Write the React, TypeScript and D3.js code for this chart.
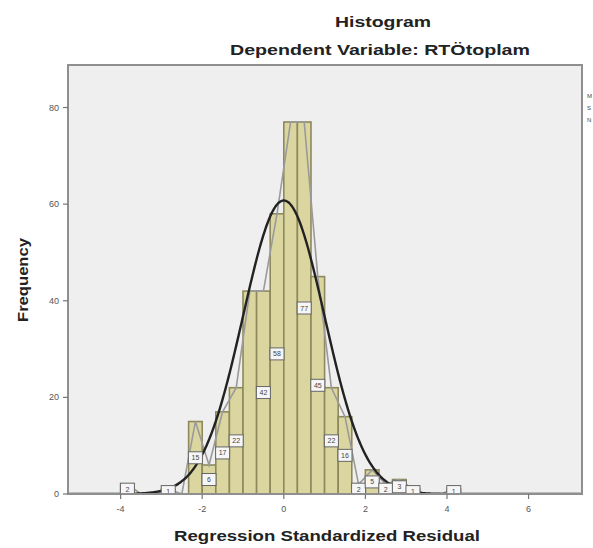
import React from "react";
import * as d3 from "d3";

const binStart = -4;
const binWidth = 1 / 3;
const frequencies = [2, 0, 0, 1, 0, 15, 6, 17, 22, 42, 42, 58, 77, 77, 45, 22, 16, 2, 5, 2, 3, 1, 0, 0, 1];
const showLabel = [true, false, false, true, false, true, true, true, true, false, true, true, false, true, true, true, true, true, true, true, true, true, false, false, true];
const xTicks = [-4, -2, 0, 2, 4, 6];
const yTicks = [0, 20, 40, 60, 80];
const curveMean = 0;
const curveSD = 0.998;
const titleText = "Histogram";
const subtitleText = "Dependent Variable: RTÖtoplam";
const xLabelText = "Regression Standardized Residual";
const yLabelText = "Frequency";
const legendLines = ["M", "S", "N"];

const W = 593;
const H = 548;
const left = 68, right = 582, top = 65, bottom = 494;

export default function App() {
  const x = d3.scaleLinear().domain([-5.29, 7.31]).range([left, right]);
  const y = d3.scaleLinear().domain([0, 88.8]).range([bottom, top]);
  const N = d3.sum(frequencies);
  const bins = frequencies.map((f, i) => ({
    x0: binStart + i * binWidth,
    x1: binStart + (i + 1) * binWidth,
    mid: binStart + (i + 0.5) * binWidth,
    f,
    lab: showLabel[i],
  }));
  const poly = d3
    .line<{ mid: number; f: number }>()
    .x((d) => x(d.mid))
    .y((d) => y(d.f));
  const pdf = (v: number) =>
    (N * binWidth * Math.exp(-0.5 * ((v - curveMean) / curveSD) ** 2)) /
    (curveSD * Math.sqrt(2 * Math.PI));
  const curvePts = d3.range(-5.29, 7.31, 0.02).map((v) => [v, pdf(v)] as [number, number]);
  const curve = d3
    .line<[number, number]>()
    .x((d) => x(d[0]))
    .y((d) => y(d[1]))
    .curve(d3.curveBasis);
  const font = "Liberation Sans, Arial, sans-serif";

  return (
    <svg width={W} height={H} style={{ position: "absolute", left: 0, top: 0, background: "#fff" }} fontFamily={font}>
      <defs>
        <clipPath id="plotclip">
          <rect x={left} y={top} width={right - left} height={bottom - top} />
        </clipPath>
      </defs>
      <rect x={0} y={0} width={W} height={H} fill="#ffffff" />
      <text x={383} y={27} textAnchor="middle" fontSize={15} fontWeight="bold" fill="#222" textLength={96} lengthAdjust="spacingAndGlyphs">
        {titleText}
      </text>
      <text x={380} y={55} textAnchor="middle" fontSize={15} fontWeight="bold" fill="#222" textLength={300} lengthAdjust="spacingAndGlyphs">
        {subtitleText}
      </text>
      <rect x={left} y={top} width={right - left} height={bottom - top} fill="#efefef" />
      <g clipPath="url(#plotclip)">
        {bins
          .filter((b) => b.f > 0)
          .map((b, i) => (
            <rect
              key={i}
              x={x(b.x0)}
              y={y(b.f)}
              width={x(b.x1) - x(b.x0)}
              height={y(0) - y(b.f)}
              fill="#dbd6a0"
              stroke="#8d895c"
              strokeWidth={1.6}
            />
          ))}
        <path d={poly(bins) || ""} fill="none" stroke="#9a9a9a" strokeWidth={1.6} />
        <path d={curve(curvePts) || ""} fill="none" stroke="#222" strokeWidth={2.4} />
        {bins
          .filter((b) => b.f > 0 && b.lab)
          .map((b, i) => (
            <g key={i} transform={`translate(${x(b.mid)},${y(b.f / 2)})`}>
              <rect x={-7} y={-6} width={14} height={12} fill="#f6f6f6" stroke="#666" strokeWidth={1} />
              <text x={0} y={2.5} textAnchor="middle" fontSize={7} fill="#444">
                {b.f}
              </text>
            </g>
          ))}
      </g>
      <rect x={left} y={top} width={right - left} height={bottom - top} fill="none" stroke="#8f8f8f" strokeWidth={2} />
      {yTicks.map((t) => (
        <g key={t}>
          <line x1={left - 5} x2={left} y1={y(t)} y2={y(t)} stroke="#777" strokeWidth={1.2} />
          <text x={left - 9} y={y(t) + 3} textAnchor="end" fontSize={9} fill="#555">
            {t}
          </text>
        </g>
      ))}
      {xTicks.map((t) => (
        <g key={t}>
          <line x1={x(t)} x2={x(t)} y1={bottom} y2={bottom + 5} stroke="#777" strokeWidth={1.2} />
          <text x={x(t)} y={bottom + 18} textAnchor="middle" fontSize={9} fill="#555">
            {t}
          </text>
        </g>
      ))}
      <text x={327} y={541} textAnchor="middle" fontSize={15} fontWeight="bold" fill="#222" textLength={306} lengthAdjust="spacingAndGlyphs">
        {xLabelText}
      </text>
      <text transform="translate(28,280) rotate(-90)" textAnchor="middle" fontSize={14} fontWeight="bold" fill="#222" textLength={84} lengthAdjust="spacingAndGlyphs">
        {yLabelText}
      </text>
      {legendLines.map((l, i) => (
        <text key={i} x={587} y={98 + i * 12} fontSize={6} fill="#444">
          {l}
        </text>
      ))}
    </svg>
  );
}
